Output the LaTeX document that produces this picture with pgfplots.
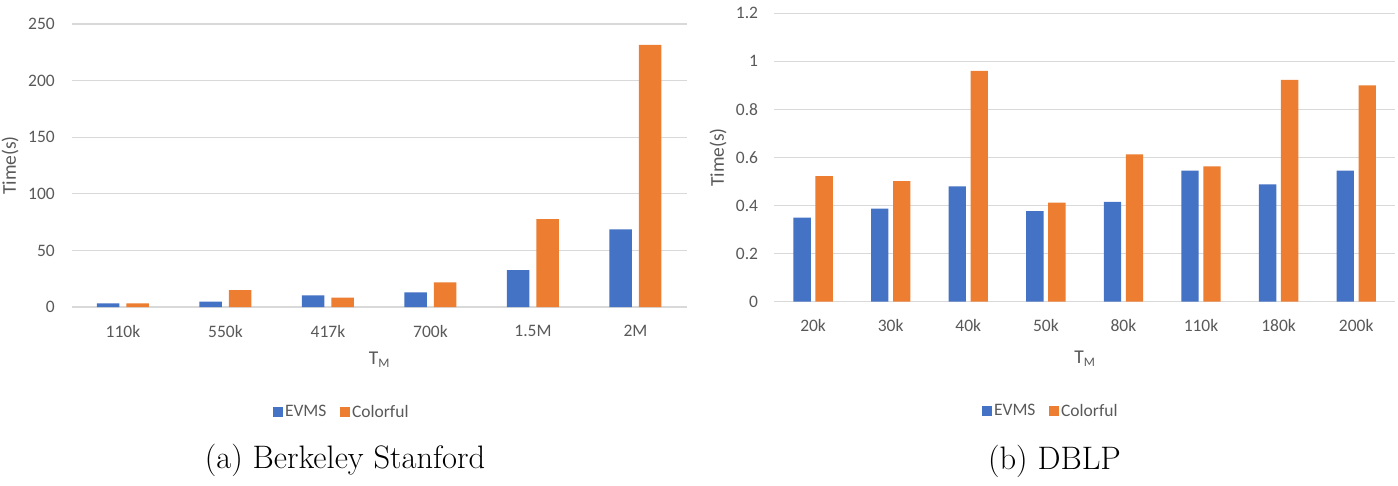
\documentclass[border=0pt]{standalone}
\usepackage{fontspec}
\usepackage{pgfplots}
\pgfplotsset{compat=1.18}
\newfontfamily\cf{Carlito}

\definecolor{evms}{HTML}{4472C4}
\definecolor{colorful}{HTML}{ED7D31}
\definecolor{txt}{HTML}{595959}
\definecolor{gridc}{HTML}{D9D9D9}

\pgfplotsset{
  excelbars/.style={
    scale only axis,
    axis line style={draw=none},
    tick style={draw=none},
    major tick length=0pt,
    ymajorgrids,
    grid style={gridc, line width=1.2pt},
    ymin=0,
    /pgf/number format/assume math mode=true,
    tick label style={font=\cf\fontsize{17.5}{20}\selectfont, text=txt},
    yticklabel style={anchor=east, inner sep=0pt},
    xticklabel style={anchor=center, inner sep=0pt, yshift=-24pt},
    every axis x label/.style={at={(axis description cs:0.5,0)}, anchor=center},
    every axis y label/.style={at={(axis description cs:0,0.5)}, rotate=90, anchor=center},
    label style={font=\cf\fontsize{19.5}{22}\selectfont, text=txt},
    xlabel={T\raisebox{-0.35ex}{\fontsize{13}{15}\selectfont M}},
    ylabel={Time(s)},
    legend columns=2,
    legend style={draw=none, fill=none, font=\cf\fontsize{17.5}{20}\selectfont, text=txt,
      anchor=center, inner sep=0pt,
      nodes={inner sep=2.5pt},
      /tikz/every even column/.append style={column sep=11pt}},
  },
  % square legend swatches, applied after ybar so they are not replaced
  sqlegend/.style={
    legend image code/.code={\fill[##1] (0pt,-4.8pt) rectangle (9.6pt,4.8pt);},
  },
}

\begin{document}
\begin{tikzpicture}
\useasboundingbox (0,0) rectangle (1398pt,485pt);

% (a) Berkeley Stanford
\begin{axis}[excelbars,
  at={(71.7pt,178pt)}, anchor=south west,
  width=615pt, height=283pt,
  ymax=250, ytick={0,50,...,250},
  xmin=-0.5, xmax=5.5,
  xtick={0,...,5},
  xticklabels={110k,550k,417k,700k,1.5M,2M},
  yticklabel style={xshift=-16.7pt},
  xlabel style={yshift=-53pt},
  ylabel style={yshift=61.7pt},
  ybar=7pt, bar width=22.5pt,
  sqlegend,
  legend style={at={(axis description cs:0.4395,-0.371)}},
]
\addplot[fill=evms, draw=none] coordinates {(0,3.2) (1,4.7) (2,10.3) (3,13.0) (4,32.6) (5,68.6)};
\addplot[fill=colorful, draw=none] coordinates {(0,3.2) (1,15.0) (2,8.2) (3,21.8) (4,77.7) (5,231.5)};
\legend{EVMS, Colorful}
\end{axis}

% (b) DBLP
\begin{axis}[excelbars,
  at={(774.3pt,183.3pt)}, anchor=south west,
  width=620.7pt, height=288.4pt,
  ymax=1.2, ytick={0,0.2,...,1.2},
  yticklabels={0,0.2,0.4,0.6,0.8,1,1.2},
  xmin=-0.5, xmax=7.5,
  xtick={0,...,7},
  xticklabels={20k,30k,40k,50k,80k,110k,180k,200k},
  yticklabel style={xshift=-16pt},
  xlabel style={yshift=-57pt},
  ylabel style={yshift=56.3pt},
  ybar=4.7pt, bar width=17.3pt,
  sqlegend,
  legend style={at={(axis description cs:0.4458,-0.378)}},
]
\addplot[fill=evms, draw=none] coordinates {(0,0.350) (1,0.387) (2,0.480) (3,0.377) (4,0.415) (5,0.545) (6,0.488) (7,0.545)};
\addplot[fill=colorful, draw=none] coordinates {(0,0.522) (1,0.502) (2,0.960) (3,0.412) (4,0.613) (5,0.563) (6,0.923) (7,0.900)};
\legend{EVMS, Colorful}
\end{axis}

\node[font=\fontsize{32.5}{38}\selectfont, inner sep=0pt] at (345pt,25pt) {(a) Berkeley Stanford};
\node[font=\fontsize{32.5}{38}\selectfont, inner sep=0pt] at (1054.5pt,23.3pt) {(b) DBLP};
\end{tikzpicture}
\end{document}
